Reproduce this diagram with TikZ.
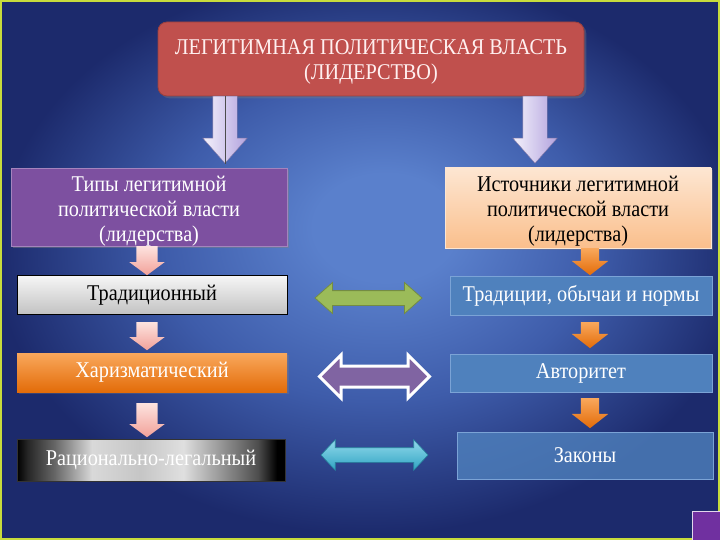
\documentclass[tikz,border=0pt]{standalone}
\usepackage{fontspec}
\setmainfont{Liberation Serif}[FakeStretch=0.9]
\usetikzlibrary{positioning,shapes.arrows,shadows}

\definecolor{bglight}{HTML}{5A80CC}
\definecolor{bgmid}{HTML}{3E5CAA}
\definecolor{bgdark}{HTML}{1C2A6C}
\definecolor{framegreen}{HTML}{C8DC3C}
\definecolor{cornerpurple}{HTML}{7030A0}
\definecolor{redbox}{HTML}{C0504D}
\definecolor{purplebox}{HTML}{7D50A0}
\definecolor{peachtop}{HTML}{FDE6D2}
\definecolor{peachbot}{HTML}{FABF8C}
\definecolor{graytop}{HTML}{F6F6F6}
\definecolor{graybot}{HTML}{C2C2C2}
\definecolor{orangetop}{HTML}{F9A85C}
\definecolor{orangebot}{HTML}{E36C09}
\definecolor{bluebox}{HTML}{4F81BD}
\definecolor{blueline}{HTML}{7BA3D6}
\definecolor{lavtop}{HTML}{F4F2FC}
\definecolor{lavbot}{HTML}{B3A3DE}
\definecolor{pinktop}{HTML}{FDE3DF}
\definecolor{pinkbot}{HTML}{F2A199}
\definecolor{greenarr}{HTML}{9BBB59}
\definecolor{violetarr}{HTML}{8064A2}
\definecolor{cyantop}{HTML}{92DAEC}
\definecolor{cyanbot}{HTML}{2FA3C2}

\pgfdeclareradialshading{bgglow}{\pgfpoint{2bp}{4.5bp}}{color(0bp)=(bglight); color(5bp)=(bglight); color(15bp)=(bgmid); color(26bp)=(bgdark); color(40bp)=(bgdark)}
\pgfdeclarehorizontalshading{steel}{100bp}{color(0bp)=(black); color(25bp)=(black); color(27bp)=(black!85); color(32bp)=(gray!80!black); color(39bp)=(white!70!gray); color(48bp)=(gray!45!white); color(56bp)=(white!75!gray); color(64bp)=(gray!90!white); color(70bp)=(black!70); color(73.5bp)=(black); color(100bp)=(black)}

\tikzset{
  box/.style={rectangle, align=center, inner sep=2pt, font=\fontsize{22.5}{25}\selectfont},
  leftbox/.style={box, minimum width=270pt, minimum height=39pt},
  srcbox/.style={box, minimum width=262pt, minimum height=39pt, fill=bluebox, draw=blueline, line width=1pt, text=white},
  downarr/.style={single arrow, shape border rotate=270, inner ysep=0pt, single arrow head indent=0pt, anchor=tail},
  lavarr/.style={downarr, inner xsep=12pt, single arrow head extend=10pt, single arrow tip angle=83, minimum height=67pt, left color=lavtop, right color=lavbot, draw=lavbot!75!black, line width=0.4pt},
  pinkarr/.style={downarr, inner xsep=10.5pt, single arrow head extend=7pt, single arrow tip angle=107, top color=pinktop, bottom color=pinkbot},
  orangearr/.style={downarr, inner xsep=9pt, single arrow head extend=9pt, single arrow tip angle=104, top color=orangetop, bottom color=orangebot},
  linkarr/.style={double arrow, inner xsep=0pt, double arrow head indent=0pt}
}

\begin{document}
\begin{tikzpicture}[x=1pt, y=-1pt]
  \useasboundingbox (0,0) rectangle (720,540);
  \shade[shading=bgglow] (0,0) rectangle (720,540);
  \draw[framegreen, line width=2pt] (1,1) rectangle (719,539);
  \fill[cornerpurple] (692,511) rectangle (720,540);
  \draw[white!80!cornerpurple, line width=0.6pt] (692,540) -- (692,511) -- (720,511);

  \node[box, minimum width=426pt, minimum height=74pt, rounded corners=9pt, fill=redbox, draw=redbox!80!black, line width=0.8pt, text=white!94!red, drop shadow={opacity=0.35}] (power) at (371,59) {};
  \node[box, text=white!94!red] (powertext) at (371,62) {ЛЕГИТИМНАЯ ПОЛИТИЧЕСКАЯ ВЛАСТЬ\\(ЛИДЕРСТВО)};

  \node[lavarr] (a1) at (225,96) {};
  \node[lavarr] (a2) at (535,96) {};
  \draw[black!70, line width=0.8pt] (a1.tail) -- (a1.tip);

  \node[box, minimum width=276pt, minimum height=78pt, fill=purplebox, draw=purplebox!70!white, line width=0.8pt, text=white, drop shadow={opacity=0.45}] (types) at (149,207) {};
  \node[box, text=white] (typestext) at (149,211) {Типы легитимной\\политической власти\\(лидерства)};
  \node[box, minimum width=266pt, minimum height=80pt, top color=peachtop, bottom color=peachbot, draw=peachtop, line width=0.8pt, drop shadow={opacity=0.35}] (sources) at (578,208) {};
  \node[box] (sourcestext) at (578,211) {Источники легитимной\\политической власти\\(лидерства)};

  \node[leftbox, top color=graytop, bottom color=graybot, draw=black, line width=1pt] (trad) at (152,295) {Традиционный};
  \node[leftbox, top color=orangetop, bottom color=orangebot, text=white, drop shadow={opacity=0.3}] (charisma) at (152,372.5) {Харизматический};
  \node[leftbox, minimum width=268pt, minimum height=42pt, shading=steel, draw=black!80, text=white] (legal) at (151,460) {Рационально-легальный};

  \node[srcbox] (customs) at (581,295.5) {Традиции, обычаи и нормы};
  \node[srcbox, minimum height=38pt] (authority) at (581,373) {Авторитет};
  \node[srcbox, minimum width=256pt, minimum height=47pt, fill opacity=0.8, text opacity=1] (laws) at (585,455.5) {Законы};

  \node[pinkarr, minimum height=29pt] (p1) at (147,246) {};
  \node[pinkarr, minimum height=28pt] (p2) at (147,322) {};
  \node[pinkarr, minimum height=34pt] (p3) at (147,403) {};

  \node[orangearr, minimum height=27pt] (o1) at (590,248) {};
  \node[orangearr, minimum height=26pt] (o2) at (590,322) {};
  \node[orangearr, minimum height=30pt] (o3) at (590,398) {};

  \node[linkarr, inner ysep=7pt, minimum height=107pt, double arrow head extend=8pt, double arrow tip angle=83, fill=greenarr, draw=greenarr!75!black, line width=0.8pt] (l1) at (368.5,298) {};
  \node[linkarr, inner ysep=9pt, minimum height=110pt, double arrow head extend=11pt, double arrow tip angle=90, fill=violetarr, draw=white, line width=3pt] (l2) at (374.5,376.5) {};
  \node[linkarr, inner ysep=7pt, minimum height=107pt, double arrow head extend=8pt, double arrow tip angle=94, top color=cyantop, bottom color=cyanbot, draw=cyanbot!80!black, line width=0.6pt] (l3) at (374.5,455) {};
\end{tikzpicture}
\end{document}
